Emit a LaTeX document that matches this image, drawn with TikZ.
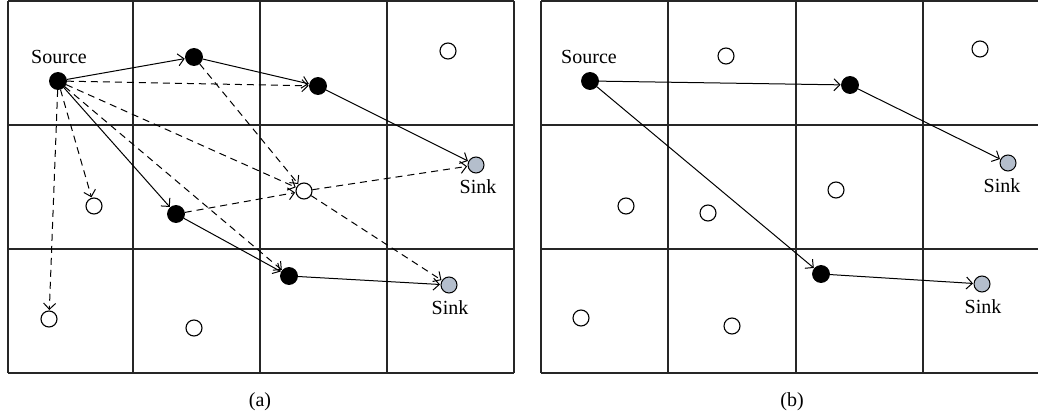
\documentclass[tikz,border=0pt]{standalone}
\usepackage{fontspec}
\setmainfont{Liberation Serif}
\usetikzlibrary{arrows.meta}
\begin{document}
\begin{tikzpicture}[x=1pt,y=-1pt,
  grid/.style={line width=1.4pt,black!85},
  full/.style={circle,fill=black,draw=black,line width=0.8pt,minimum size=17pt,inner sep=0pt},
  empty/.style={circle,fill=white,draw=black,line width=1.1pt,minimum size=16pt,inner sep=0pt},
  sinknode/.style={circle,fill={rgb,255:red,180;green,190;blue,204},draw=black,line width=1pt,minimum size=16pt,inner sep=0pt},
  lbl/.style={font=\fontsize{20}{23}\selectfont,inner sep=0pt},
  conn/.style={line width=1pt,-{Straight Barb[length=6pt,width=12pt,line width=1pt]},shorten >=0.5pt},
  dconn/.style={conn,dash pattern=on 7pt off 5pt}
]
\useasboundingbox (0,0) rectangle (1038,417);
% ---------- panel (a) grid
\foreach \x in {8,133,260,387,514} \draw[grid] (\x,1) -- (\x,373);
\foreach \y in {1,125,249,373} \draw[grid] (8,\y) -- (514,\y);
% ---------- panel (b) grid
\foreach \x in {541,668,796,923} \draw[grid] (\x,1) -- (\x,373);
\foreach \y in {1,125,249,373} \draw[grid] (541,\y) -- (1040,\y);

% ---------- panel (a) nodes
\node[full] (aS) at (58,81) {};
\node[lbl] (aSl) at (59,57) {Source};
\node[full] (aA) at (194,57) {};
\node[full] (aB) at (318,86) {};
\node[empty] (aTR) at (448,51) {};
\node[sinknode] (aK1) at (476,165) {};
\node[lbl] (aK1l) at (478,187) {Sink};
\node[empty] (aC) at (304,191) {};
\node[empty] (aD) at (94,206) {};
\node[full] (aE) at (176,214) {};
\node[full] (aF) at (289,276) {};
\node[sinknode] (aK2) at (449,285) {};
\node[lbl] (aK2l) at (450,308) {Sink};
\node[empty] (aG) at (49,319) {};
\node[empty] (aH) at (194,328) {};
\node[lbl] (acap) at (260,402) {(a)};

% solid edges (a)
\draw[conn] (aS) -- (aA);
\draw[conn] (aA) -- (aB);
\draw[conn] (aB) -- (aK1);
\draw[conn] (aS) -- (aE);
\draw[conn] (aE) -- (aF);
\draw[conn] (aF) -- (aK2);
% dashed edges (a)
\draw[dconn] (aS) -- (aB);
\draw[dconn] (aS) -- (aC);
\draw[dconn] (aS) -- (aF);
\draw[dconn] (aS) -- (aD);
\draw[dconn] (aS) -- (aG);
\draw[dconn] (aA) -- (aC);
\draw[dconn] (aE) -- (aC);
\draw[dconn] (aC) -- (aK1);
\draw[dconn] (aC) -- (aK2);

% ---------- panel (b) nodes
\node[full] (bS) at (590,81) {};
\node[lbl] (bSl) at (589,57) {Source};
\node[empty] (b1) at (726,56) {};
\node[full] (bB) at (850,85) {};
\node[empty] (b2) at (980,49) {};
\node[sinknode] (bK1) at (1008,163) {};
\node[lbl] (bK1l) at (1002,186) {Sink};
\node[empty] (b3) at (626,206) {};
\node[empty] (b4) at (708,213) {};
\node[empty] (b5) at (836,190) {};
\node[full] (bF) at (821,274) {};
\node[sinknode] (bK2) at (982,284) {};
\node[lbl] (bK2l) at (983,307) {Sink};
\node[empty] (b6) at (581,318) {};
\node[empty] (b7) at (732,326) {};
\node[lbl] (bcap) at (792,402) {(b)};

\draw[conn] (bS) -- (bB);
\draw[conn] (bB) -- (bK1);
\draw[conn] (bS) -- (bF);
\draw[conn] (bF) -- (bK2);
\end{tikzpicture}
\end{document}
